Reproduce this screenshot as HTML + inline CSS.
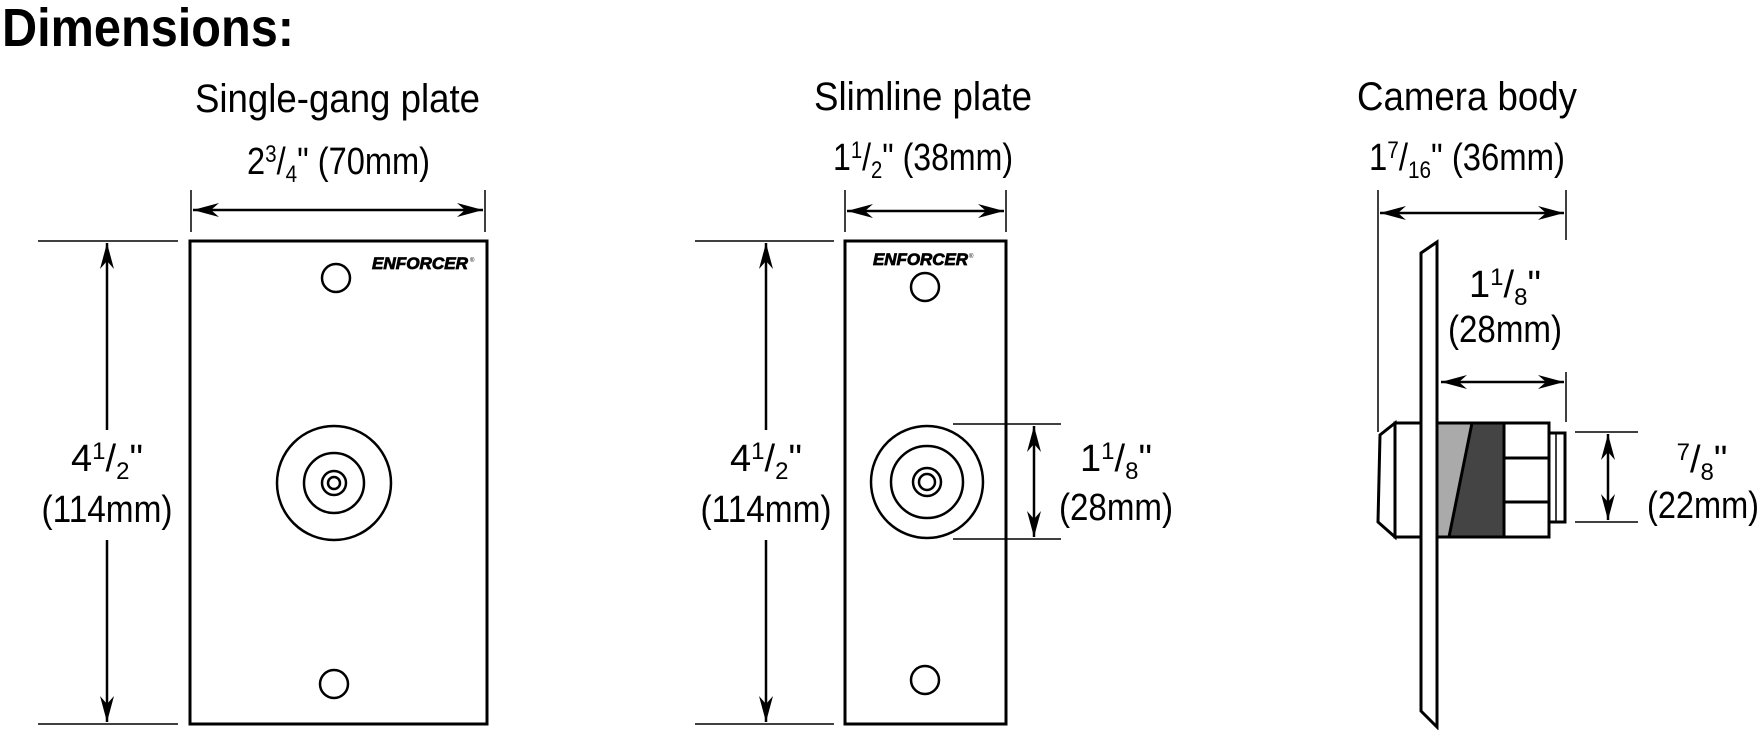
<!DOCTYPE html>
<html><head><meta charset="utf-8"><style>
html,body{margin:0;padding:0;background:#fff;}
svg{display:block;}
text{font-family:"Liberation Sans",sans-serif;fill:#000;}
</style></head><body>
<svg width="1759" height="730" viewBox="0 0 1759 730" xmlns="http://www.w3.org/2000/svg">
<defs>
<marker id="ah" viewBox="0 0 26 14" refX="26" refY="7" markerWidth="26" markerHeight="14" markerUnits="userSpaceOnUse" orient="auto-start-reverse">
<path d="M0,0 L26,7 L0,14 L8,7 Z" fill="#000"/>
</marker>
</defs>
<rect width="1759" height="730" fill="#fff"/>

<text x="2" y="46" font-size="54" font-weight="bold" textLength="292" lengthAdjust="spacingAndGlyphs">Dimensions:</text>

<!-- Single-gang -->
<text x="195" y="112" font-size="40" textLength="285" lengthAdjust="spacingAndGlyphs">Single-gang plate</text>
<text x="247" y="174" font-size="38" textLength="183" lengthAdjust="spacingAndGlyphs">2<tspan font-size="24" dy="-12">3</tspan><tspan dy="12">/</tspan><tspan font-size="24" dy="8">4</tspan><tspan dy="-8">" (70mm)</tspan></text>
<line x1="191" y1="190" x2="191" y2="232" stroke="#000" stroke-width="1.5"/>
<line x1="485" y1="190" x2="485" y2="232" stroke="#000" stroke-width="1.5"/>
<line x1="193" y1="210" x2="483" y2="210" stroke="#000" stroke-width="2.5" marker-start="url(#ah)" marker-end="url(#ah)"/>
<rect x="190" y="241" width="297" height="483" fill="none" stroke="#000" stroke-width="3"/>
<circle cx="336" cy="278" r="14" fill="none" stroke="#000" stroke-width="2.5"/>
<circle cx="334" cy="684" r="14" fill="none" stroke="#000" stroke-width="2.5"/>
<text x="372" y="269" font-size="17" font-weight="bold" font-style="italic" stroke="#000" stroke-width="0.8" textLength="96" lengthAdjust="spacingAndGlyphs">ENFORCER</text>
<text x="470" y="262" font-size="6">®</text>
<circle cx="334" cy="483" r="57" fill="none" stroke="#000" stroke-width="2.5"/>
<circle cx="334" cy="483" r="30" fill="none" stroke="#000" stroke-width="2.5"/>
<circle cx="334" cy="483" r="12" fill="none" stroke="#000" stroke-width="2.5"/>
<circle cx="334" cy="483" r="6" fill="none" stroke="#000" stroke-width="2.5"/>
<line x1="38" y1="241" x2="178" y2="241" stroke="#000" stroke-width="1.5"/>
<line x1="38" y1="724" x2="178" y2="724" stroke="#000" stroke-width="1.5"/>
<line x1="107" y1="243" x2="107" y2="430" stroke="#000" stroke-width="2.5" marker-start="url(#ah)"/>
<line x1="107" y1="540" x2="107" y2="722" stroke="#000" stroke-width="2.5" marker-end="url(#ah)"/>
<text x="107" y="471" font-size="38" text-anchor="middle">4<tspan font-size="24" dy="-12">1</tspan><tspan dy="12">/</tspan><tspan font-size="24" dy="8">2</tspan><tspan dy="-8">"</tspan></text>
<text x="107" y="522" font-size="38" text-anchor="middle" textLength="131" lengthAdjust="spacingAndGlyphs">(114mm)</text>

<!-- Slimline -->
<text x="923" y="110" font-size="40" text-anchor="middle" textLength="218" lengthAdjust="spacingAndGlyphs">Slimline plate</text>
<text x="923" y="170" font-size="38" text-anchor="middle" textLength="180" lengthAdjust="spacingAndGlyphs">1<tspan font-size="24" dy="-12">1</tspan><tspan dy="12">/</tspan><tspan font-size="24" dy="8">2</tspan><tspan dy="-8">" (38mm)</tspan></text>
<line x1="845" y1="190" x2="845" y2="232" stroke="#000" stroke-width="1.5"/>
<line x1="1006" y1="190" x2="1006" y2="232" stroke="#000" stroke-width="1.5"/>
<line x1="847" y1="211" x2="1004" y2="211" stroke="#000" stroke-width="2.5" marker-start="url(#ah)" marker-end="url(#ah)"/>
<rect x="845" y="241" width="161" height="483" fill="none" stroke="#000" stroke-width="3"/>
<text x="873" y="265" font-size="17" font-weight="bold" font-style="italic" stroke="#000" stroke-width="0.8" textLength="95" lengthAdjust="spacingAndGlyphs">ENFORCER</text>
<text x="969" y="258" font-size="6">®</text>
<circle cx="925" cy="287" r="14" fill="none" stroke="#000" stroke-width="2.5"/>
<circle cx="925" cy="680" r="14" fill="none" stroke="#000" stroke-width="2.5"/>
<circle cx="927" cy="482" r="56" fill="none" stroke="#000" stroke-width="2.5"/>
<circle cx="927" cy="482" r="36" fill="none" stroke="#000" stroke-width="2.5"/>
<circle cx="927" cy="482" r="14" fill="none" stroke="#000" stroke-width="2.5"/>
<circle cx="927" cy="482" r="8" fill="none" stroke="#000" stroke-width="2.5"/>
<line x1="695" y1="241" x2="834" y2="241" stroke="#000" stroke-width="1.5"/>
<line x1="695" y1="724" x2="834" y2="724" stroke="#000" stroke-width="1.5"/>
<line x1="766" y1="243" x2="766" y2="430" stroke="#000" stroke-width="2.5" marker-start="url(#ah)"/>
<line x1="766" y1="540" x2="766" y2="722" stroke="#000" stroke-width="2.5" marker-end="url(#ah)"/>
<text x="766" y="471" font-size="38" text-anchor="middle">4<tspan font-size="24" dy="-12">1</tspan><tspan dy="12">/</tspan><tspan font-size="24" dy="8">2</tspan><tspan dy="-8">"</tspan></text>
<text x="766" y="522" font-size="38" text-anchor="middle" textLength="131" lengthAdjust="spacingAndGlyphs">(114mm)</text>
<line x1="953" y1="424" x2="1061" y2="424" stroke="#000" stroke-width="1.5"/>
<line x1="953" y1="539" x2="1061" y2="539" stroke="#000" stroke-width="1.5"/>
<line x1="1034" y1="426" x2="1034" y2="537" stroke="#000" stroke-width="2.5" marker-start="url(#ah)" marker-end="url(#ah)"/>
<text x="1116" y="471" font-size="38" text-anchor="middle">1<tspan font-size="24" dy="-12">1</tspan><tspan dy="12">/</tspan><tspan font-size="24" dy="8">8</tspan><tspan dy="-8">"</tspan></text>
<text x="1116" y="520" font-size="38" text-anchor="middle" textLength="114" lengthAdjust="spacingAndGlyphs">(28mm)</text>

<!-- Camera body -->
<text x="1467" y="110" font-size="40" text-anchor="middle" textLength="220" lengthAdjust="spacingAndGlyphs">Camera body</text>
<text x="1467" y="170" font-size="38" text-anchor="middle" textLength="196" lengthAdjust="spacingAndGlyphs">1<tspan font-size="24" dy="-12">7</tspan><tspan dy="12">/</tspan><tspan font-size="24" dy="8">16</tspan><tspan dy="-8">" (36mm)</tspan></text>
<line x1="1378" y1="190" x2="1378" y2="432" stroke="#000" stroke-width="1.5"/>
<line x1="1566" y1="190" x2="1566" y2="240" stroke="#000" stroke-width="1.5"/>
<line x1="1566" y1="372" x2="1566" y2="422" stroke="#000" stroke-width="1.5"/>
<line x1="1380" y1="213" x2="1564" y2="213" stroke="#000" stroke-width="2.5" marker-start="url(#ah)" marker-end="url(#ah)"/>
<text x="1505" y="297" font-size="38" text-anchor="middle">1<tspan font-size="24" dy="-12">1</tspan><tspan dy="12">/</tspan><tspan font-size="24" dy="8">8</tspan><tspan dy="-8">"</tspan></text>
<text x="1505" y="342" font-size="38" text-anchor="middle" textLength="114" lengthAdjust="spacingAndGlyphs">(28mm)</text>
<line x1="1441" y1="382" x2="1564" y2="382" stroke="#000" stroke-width="2.5" marker-start="url(#ah)" marker-end="url(#ah)"/>
<!-- body -->
<polygon points="1395,423 1380,435 1378,522 1395,537" fill="#fff" stroke="#000" stroke-width="3"/>
<rect x="1395" y="423" width="154" height="114" fill="#fff" stroke="#000" stroke-width="3"/>
<polygon points="1437,423 1472,423 1449,537 1437,537" fill="#aaa"/>
<polygon points="1472,423 1504,423 1504,537 1449,537" fill="#444"/>
<line x1="1472" y1="423" x2="1449" y2="537" stroke="#000" stroke-width="3"/>
<rect x="1395" y="423" width="154" height="114" fill="none" stroke="#000" stroke-width="3"/>
<line x1="1504" y1="423" x2="1504" y2="537" stroke="#000" stroke-width="3"/>
<line x1="1504" y1="458" x2="1549" y2="458" stroke="#000" stroke-width="3"/>
<line x1="1504" y1="502" x2="1549" y2="502" stroke="#000" stroke-width="3"/>
<rect x="1549" y="433" width="16" height="89" fill="#fff" stroke="#000" stroke-width="3"/>
<line x1="1556" y1="433" x2="1556" y2="522" stroke="#000" stroke-width="1.5"/>
<!-- plate edge -->
<polygon points="1421,253 1437,242 1437,727 1421,711" fill="#fff" stroke="#000" stroke-width="3"/>
<line x1="1575" y1="432" x2="1638" y2="432" stroke="#000" stroke-width="1.5"/>
<line x1="1575" y1="522" x2="1638" y2="522" stroke="#000" stroke-width="1.5"/>
<line x1="1608" y1="434" x2="1608" y2="520" stroke="#000" stroke-width="2.5" marker-start="url(#ah)" marker-end="url(#ah)"/>
<text x="1702" y="472" font-size="38" text-anchor="middle"><tspan font-size="24" dy="-12">7</tspan><tspan dy="12">/</tspan><tspan font-size="24" dy="8">8</tspan><tspan dy="-8">"</tspan></text>
<text x="1703" y="518" font-size="38" text-anchor="middle" textLength="112" lengthAdjust="spacingAndGlyphs">(22mm)</text>
</svg>
</body></html>
